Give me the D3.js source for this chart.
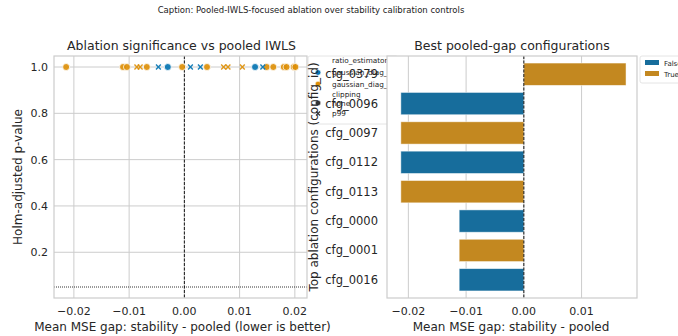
<!DOCTYPE html>
<html>
<head>
<meta charset="utf-8">
<script src="https://cdn.jsdelivr.net/npm/d3@7"></script>
<style>
  body { margin: 0; background: #fff; }
  svg { font-family: "DejaVu Sans", sans-serif; }
</style>
</head>
<body>
<div id="chart"></div>
<script>
// left panel: every ablation run, gap vs Holm-adjusted p
var gaps = [-0.0214, -0.0111, -0.0104, -0.0086, -0.0080, -0.0068, -0.0047, -0.0030,
            -0.0004, 0.0011, 0.0029, 0.0041, 0.0071, 0.0079, 0.0105, 0.0128,
            0.0142, 0.0149, 0.0161, 0.0180, 0.0185, 0.0198, 0.0201];
var pvals = [1, 1, 1, 1, 1, 1, 1, 1, 1, 1, 1, 1, 1, 1, 1, 1, 1, 1, 1, 1, 1, 1, 1];
var estimators = ["iw", "iw", "iw", "iw", "iw", "iw", "pr", "pr",
                  "iw", "pr", "pr", "iw", "iw", "iw", "iw", "pr",
                  "pr", "iw", "iw", "iw", "iw", "iw", "iw"];
var clippings = ["none", "none", "none", "p99", "p99", "none", "p99", "none",
                 "none", "p99", "p99", "none", "p99", "p99", "p99", "none",
                 "p99", "none", "none", "none", "none", "none", "none"];

// right panel: best configs
var configs = ["cfg_0379", "cfg_0096", "cfg_0097", "cfg_0112", "cfg_0113", "cfg_0000", "cfg_0001", "cfg_0016"];
var cfgGaps = [0.0177, -0.0213, -0.0213, -0.0213, -0.0213, -0.0112, -0.0112, -0.0112];
var cfgFlags = ["True", "False", "True", "False", "True", "False", "True", "False"];

var leftXTicks = [-0.02, -0.01, 0.00, 0.01, 0.02];
var leftYTicks = [0.2, 0.4, 0.6, 0.8, 1.0];
var rightXTicks = [-0.02, -0.01, 0.00, 0.01];

function init() {
    var w = 678, h = 336;
    var grid = "#cccccc";

    var svg = d3.select("#chart").append("svg")
        .attr("width", w).attr("height", h);

    svg.append("text")
        .attr("x", 311).attr("y", 13)
        .attr("text-anchor", "middle")
        .style("font-size", "8.5px").attr("fill", "#222")
        .text("Caption: Pooled-IWLS-focused ablation over stability calibration controls");

    var fmt = function (d) { return d3.format(".2f")(d).replace("-", "\u2212"); };
    var fmt1 = d3.format(".1f");

    // ---------- left panel ----------
    var L = { x0: 54, x1: 307, y0: 56, y1: 298 };
    var xL = d3.scaleLinear().domain([-0.0236, 0.0222]).range([L.x0, L.x1]);
    var yL = d3.scaleLinear().domain([0.0025, 1.0475]).range([L.y1, L.y0]);
    var colorL = d3.scaleOrdinal().domain(["pr", "iw"]).range(["#0173b2", "#de8f05"]);

    var gl = svg.append("g");
    gl.append("rect").attr("x", L.x0).attr("y", L.y0)
        .attr("width", L.x1 - L.x0).attr("height", L.y1 - L.y0)
        .attr("fill", "#fff");

    gl.selectAll(".vx").data(leftXTicks).enter().append("line")
        .attr("x1", d => xL(d)).attr("x2", d => xL(d))
        .attr("y1", L.y0).attr("y2", L.y1)
        .attr("stroke", grid).attr("stroke-width", 1);
    gl.selectAll(".hy").data(leftYTicks).enter().append("line")
        .attr("y1", d => yL(d)).attr("y2", d => yL(d))
        .attr("x1", L.x0).attr("x2", L.x1)
        .attr("stroke", grid).attr("stroke-width", 1);

    // reference lines
    gl.append("line")
        .attr("x1", xL(0)).attr("x2", xL(0)).attr("y1", L.y0).attr("y2", L.y1)
        .attr("stroke", "#000").attr("stroke-width", 0.9).attr("stroke-dasharray", "3,1.5");
    gl.append("line")
        .attr("x1", L.x0).attr("x2", L.x1).attr("y1", yL(0.05)).attr("y2", yL(0.05))
        .attr("stroke", "#000").attr("stroke-width", 0.8).attr("stroke-dasharray", "1,1");

    var pts = gaps.map(function (g, i) {
        return { gap: g, p: pvals[i], est: estimators[i], clip: clippings[i] };
    });

    gl.selectAll(".dot").data(pts.filter(d => d.clip === "none")).enter().append("circle")
        .attr("cx", d => xL(d.gap)).attr("cy", d => yL(d.p))
        .attr("r", 3.5)
        .attr("fill", d => colorL(d.est))
        .attr("stroke", "#fff").attr("stroke-width", 0.8)
        .attr("opacity", 0.9);

    gl.selectAll(".cross").data(pts.filter(d => d.clip === "p99")).enter().append("path")
        .attr("transform", d => "translate(" + xL(d.gap) + "," + yL(d.p) + ")")
        .attr("d", "M-2.4,-2.4L2.4,2.4M-2.4,2.4L2.4,-2.4")
        .attr("stroke", d => colorL(d.est)).attr("stroke-width", 1.4)
        .attr("opacity", 0.9);

    gl.append("rect").attr("x", L.x0).attr("y", L.y0)
        .attr("width", L.x1 - L.x0).attr("height", L.y1 - L.y0)
        .attr("fill", "none").attr("stroke", grid).attr("stroke-width", 1.2);

    gl.selectAll(".xt").data(leftXTicks).enter().append("text")
        .attr("x", d => xL(d)).attr("y", L.y1 + 17)
        .attr("text-anchor", "middle").style("font-size", "11px").attr("fill", "#262626")
        .text(fmt);
    gl.selectAll(".yt").data(leftYTicks).enter().append("text")
        .attr("x", L.x0 - 6).attr("y", d => yL(d) + 4)
        .attr("text-anchor", "end").style("font-size", "11px").attr("fill", "#262626")
        .text(fmt1);

    gl.append("text").attr("x", (L.x0 + L.x1) / 2 + 1).attr("y", 50)
        .attr("text-anchor", "middle").style("font-size", "12.5px").attr("fill", "#262626")
        .text("Ablation significance vs pooled IWLS");
    gl.append("text").attr("x", (L.x0 + L.x1) / 2 + 2).attr("y", 331)
        .attr("text-anchor", "middle").style("font-size", "12px").attr("fill", "#262626")
        .text("Mean MSE gap: stability - pooled (lower is better)");
    gl.append("text")
        .attr("transform", "translate(22," + ((L.y0 + L.y1) / 2) + ") rotate(-90)")
        .attr("text-anchor", "middle").style("font-size", "12px").attr("fill", "#262626")
        .text("Holm-adjusted p-value");

    // left legend (partly hidden under the right panel)
    var lg = svg.append("g").attr("transform", "translate(308,56)");
    lg.append("rect").attr("x", 0).attr("y", 0).attr("width", 90).attr("height", 68)
        .attr("rx", 2).attr("fill", "#fff").attr("fill-opacity", 0.85)
        .attr("stroke", "#ddd").attr("stroke-width", 0.8);
    var legRows = [
        { label: "ratio_estimator", kind: "head" },
        { label: "gaussian_diag_prior", kind: "dot", c: colorL("pr") },
        { label: "gaussian_diag_iwls", kind: "dot", c: colorL("iw") },
        { label: "clipping", kind: "head" },
        { label: "none", kind: "dot", c: "#333" },
        { label: "p99", kind: "x", c: "#333" }
    ];
    var ly = [4.5, 16.5, 28, 38.5, 47, 57.5];
    legRows.forEach(function (r, i) {
        lg.append("text").attr("x", 24).attr("y", ly[i] + 2.6)
            .style("font-size", "7.3px").attr("fill", "#262626").text(r.label);
        if (r.kind === "dot") {
            lg.append("circle").attr("cx", 10).attr("cy", ly[i]).attr("r", 2.8)
                .attr("fill", r.c).attr("stroke", "#fff").attr("stroke-width", 0.6);
        } else if (r.kind === "x") {
            lg.append("path").attr("transform", "translate(10," + ly[i] + ")")
                .attr("d", "M-2,-2L2,2M-2,2L2,-2")
                .attr("stroke", r.c).attr("stroke-width", 1.2);
        }
    });

    // ---------- right panel ----------
    var R = { x0: 387, x1: 637, y0: 56, y1: 298 };
    var xR = d3.scaleLinear().domain([-0.0237, 0.0196]).range([R.x0, R.x1]);
    var yR = d3.scaleBand().domain(configs).range([R.y0, R.y1]).padding(0.24);
    var colorR = d3.scaleOrdinal().domain(["False", "True"]).range(["#176d9c", "#c38820"]);

    var gr = svg.append("g");
    gr.append("rect").attr("x", R.x0).attr("y", R.y0)
        .attr("width", R.x1 - R.x0).attr("height", R.y1 - R.y0)
        .attr("fill", "#fff");
    gr.selectAll(".vx").data(rightXTicks).enter().append("line")
        .attr("x1", d => xR(d)).attr("x2", d => xR(d))
        .attr("y1", R.y0).attr("y2", R.y1)
        .attr("stroke", grid).attr("stroke-width", 1);

    var bars = configs.map(function (c, i) { return { cfg: c, gap: cfgGaps[i], flag: cfgFlags[i] }; });
    gr.selectAll(".bar").data(bars).enter().append("rect")
        .attr("x", d => xR(Math.min(0, d.gap)))
        .attr("width", d => Math.abs(xR(d.gap) - xR(0)))
        .attr("y", d => yR(d.cfg))
        .attr("height", yR.bandwidth())
        .attr("fill", d => colorR(d.flag))
        .attr("stroke", "#fff").attr("stroke-opacity", 0.6).attr("stroke-width", 0.8);

    gr.append("line")
        .attr("x1", xR(0)).attr("x2", xR(0)).attr("y1", R.y0).attr("y2", R.y1)
        .attr("stroke", "#000").attr("stroke-width", 0.9).attr("stroke-dasharray", "3,1.5");

    gr.append("rect").attr("x", R.x0).attr("y", R.y0)
        .attr("width", R.x1 - R.x0).attr("height", R.y1 - R.y0)
        .attr("fill", "none").attr("stroke", grid).attr("stroke-width", 1.2);

    gr.selectAll(".xt").data(rightXTicks).enter().append("text")
        .attr("x", d => xR(d)).attr("y", R.y1 + 17)
        .attr("text-anchor", "middle").style("font-size", "11px").attr("fill", "#262626")
        .text(fmt);
    gr.selectAll(".yt").data(configs).enter().append("text")
        .attr("x", R.x0 - 9).attr("y", d => yR(d) + yR.bandwidth() / 2 + 4)
        .attr("text-anchor", "end").style("font-size", "11.5px").attr("fill", "#262626")
        .text(d => d);

    gr.append("text").attr("x", (R.x0 + R.x1) / 2).attr("y", 50)
        .attr("text-anchor", "middle").style("font-size", "12.5px").attr("fill", "#262626")
        .text("Best pooled-gap configurations");
    gr.append("text").attr("x", (R.x0 + R.x1) / 2 - 1).attr("y", 331)
        .attr("text-anchor", "middle").style("font-size", "12px").attr("fill", "#262626")
        .text("Mean MSE gap: stability - pooled");
    gr.append("text")
        .attr("transform", "translate(318," + ((R.y0 + R.y1) / 2) + ") rotate(-90)")
        .attr("text-anchor", "middle").style("font-size", "12px").attr("fill", "#262626")
        .text("Top ablation configurations (config_id)");

    // right legend
    var rg = svg.append("g").attr("transform", "translate(640,56)");
    rg.append("rect").attr("x", 0).attr("y", 0).attr("width", 50).attr("height", 27)
        .attr("rx", 2).attr("fill", "#fff").attr("stroke", "#ddd").attr("stroke-width", 0.8);
    colorR.domain().forEach(function (k, i) {
        rg.append("rect").attr("x", 5).attr("y", 4 + i * 11).attr("width", 14).attr("height", 5)
            .attr("fill", colorR(k));
        rg.append("text").attr("x", 24).attr("y", 9.5 + i * 11)
            .style("font-size", "7px").attr("fill", "#262626").text(k);
    });
}

window.onload = init;
</script>
</body>
</html>
